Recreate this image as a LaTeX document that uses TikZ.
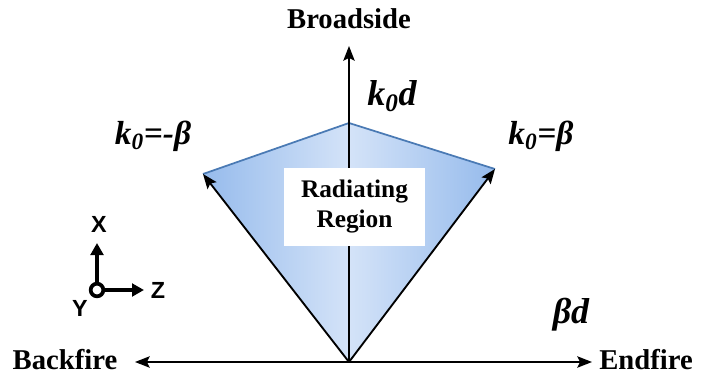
\documentclass[tikz,border=0pt]{standalone}
\usepackage{fontspec}
\setmainfont{Liberation Serif}
\newfontfamily\axisfont{Liberation Sans}
\usetikzlibrary{arrows.meta,positioning}
\definecolor{edgeblue}{RGB}{74,122,180}
\definecolor{fillside}{RGB}{150,187,236}
\definecolor{fillmid}{RGB}{212,227,248}

\begin{document}
\begin{tikzpicture}[x=0.75pt, y=-0.75pt, line width=1.4pt,
  arr/.style={-{Stealth[length=11pt,width=8.5pt,inset=2pt]}},
  smallarr/.style={line width=2.4pt, -{Triangle[length=9pt,width=9.5pt]}},
  dirlabel/.style={inner sep=0pt, font=\fontsize{21.5}{24}\selectfont\bfseries},
  wavelabel/.style={inner sep=0pt, font=\fontsize{25}{28}\selectfont\bfseries\itshape},
  axlabel/.style={font=\fontsize{17.5}{19}\selectfont\axisfont\bfseries}]
  \useasboundingbox (0,0) rectangle (701,375);
  \coordinate (o) at (349,362);
  \coordinate (apex) at (349,123);
  \coordinate (kl) at (203,174);
  \coordinate (kr) at (495,169);
  \coordinate (bs) at (349,46);
  \coordinate (bf) at (135,362);
  \coordinate (ef) at (592,362);
  % radiating region
  \shade[left color=fillside, right color=fillside, middle color=fillmid]
    (o) -- (kl) -- (apex) -- (kr) -- cycle;
  \draw[edgeblue, line width=1.3pt] (kl) -- (apex) -- (kr);
  \path[arr] (o) edge (bs) edge (kl) edge (kr) edge (bf) edge (ef);
  \node[fill=white, minimum width=105.75pt, minimum height=58.5pt, align=center,
    font=\fontsize{19}{22.5}\selectfont\bfseries] (region) at (354.5,207) {Radiating\\Region};
  % direction labels
  \node[dirlabel] (broadside) at (349,19) {Broadside};
  \node[dirlabel] (backfire) at (65,360) {Backfire};
  \node[dirlabel] (endfire) at (646,360) {Endfire};
  \node[wavelabel] (kback) at (153,136) {k\textsubscript{0}=-β};
  \node[wavelabel] (kend) at (541,136) {k\textsubscript{0}=β};
  \node[wavelabel, font=\fontsize{27}{30}\selectfont\bfseries\itshape] (kd) at (392,96) {k\textsubscript{0}d};
  \node[wavelabel, font=\fontsize{27}{30}\selectfont\bfseries\itshape] (bd) at (571,315) {βd};
  % coordinate axes
  \node[circle, draw, line width=2.8pt, fill=white, inner sep=0pt, minimum size=9.5pt] (yax) at (97,290) {};
  \coordinate (xtip) at (97,243);
  \coordinate (ztip) at (144,290);
  \draw[smallarr] (yax) -- (xtip);
  \draw[smallarr] (yax) -- (ztip);
  \node[axlabel] (xl) at (99,224) {X};
  \node[axlabel] (yl) at (80,308) {Y};
  \node[axlabel] (zl) at (158,290) {Z};
\end{tikzpicture}
\end{document}
